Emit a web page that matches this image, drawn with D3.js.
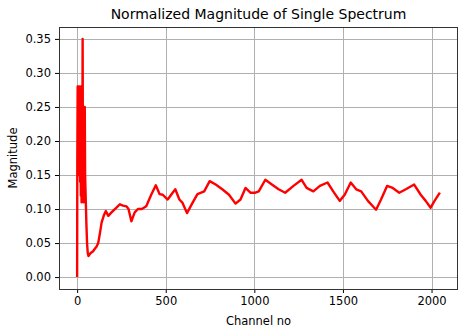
<!DOCTYPE html>
<html>
<head>
<meta charset="utf-8">
<script src="https://cdn.jsdelivr.net/npm/d3@7"></script>
<style>
html,body{margin:0;padding:0;background:#fff;}
svg{display:block;}
text{font-family:"DejaVu Sans",sans-serif;fill:#000;}
</style>
</head>
<body>
<svg id="chart" width="459" height="334"></svg>
<script>
const title = "Normalized Magnitude of Single Spectrum";
const xLabel = "Channel no";
const yLabel = "Magnitude";
const xTicks = [0, 500, 1000, 1500, 2000];
const yTicks = [0.00, 0.05, 0.10, 0.15, 0.20, 0.25, 0.30, 0.35];

const channels = [0,1,3,5,7,9,11,13,15,17,19,21,23,25,27,29,31,33,35,37,39,41,43,45,48,52,56,60,
  64,75,90,101,110,119,129,138,150,162,176,194,213,222,241,259,278,290,306,325,343,365,390,418,444,
  465,483,511,539,554,577,595,620,651,679,717,748,782,819,857,894,922,950,978,1006,1025,1062,1099,
  1137,1174,1221,1267,1295,1333,1370,1413,1445,1482,1510,1544,1575,1603,1641,1687,1715,1749,1781,
  1818,1855,1902,1939,1967,1995,2017,2047];
const magnitudes = [0.0,0.17,0.28,0.16,0.28,0.15,0.26,0.18,0.28,0.14,0.26,0.12,0.28,0.11,0.24,0.12,0.35,0.13,0.25,0.11,0.22,0.12,0.25,0.15,0.12,0.08,0.05,0.035,
  0.031,0.035,0.038,0.042,0.045,0.05,0.065,0.08,0.09,0.097,0.09,0.095,0.10,0.102,0.107,0.105,0.104,0.10,0.082,0.095,0.100,0.100,0.104,0.121,0.135,
  0.122,0.121,0.114,0.124,0.129,0.114,0.109,0.094,0.109,0.122,0.126,0.141,0.136,0.129,0.121,0.108,0.114,0.131,0.124,0.124,0.126,0.143,0.136,
  0.129,0.124,0.134,0.143,0.131,0.126,0.134,0.139,0.126,0.112,0.121,0.139,0.129,0.126,0.112,0.099,0.114,0.134,0.131,
  0.124,0.129,0.136,0.121,0.112,0.102,0.112,0.124];

const data = channels.map((c, i) => ({x: c, y: magnitudes[i]}));

const svg = d3.select("#chart");
const L = 59, R = 458, T = 27, B = 289;

const xMin = d3.min(channels), xMax = d3.max(channels);
const xPad = (xMax - xMin) * 0.05;
const yMin = d3.min(magnitudes), yMax = d3.max(magnitudes);
const yPad = (yMax - yMin) * 0.05;

const x = d3.scaleLinear().domain([xMin - xPad, xMax + xPad]).range([L, R]);
const y = d3.scaleLinear().domain([yMin - yPad, yMax + yPad]).range([B, T]);

// grid
const g = svg.append("g");
g.selectAll("line.vg").data(xTicks).join("line")
  .attr("x1", d => Math.round(x(d)) + 0.5).attr("x2", d => Math.round(x(d)) + 0.5)
  .attr("y1", T).attr("y2", B)
  .attr("stroke", "#b0b0b0").attr("stroke-width", 1);
g.selectAll("line.hg").data(yTicks).join("line")
  .attr("y1", d => Math.round(y(d)) + 0.5).attr("y2", d => Math.round(y(d)) + 0.5)
  .attr("x1", L).attr("x2", R)
  .attr("stroke", "#b0b0b0").attr("stroke-width", 1);

// line
const line = d3.line().x(d => x(d.x)).y(d => y(d.y));
svg.append("path").datum(data)
  .attr("d", line)
  .attr("fill", "none")
  .attr("stroke", "#ff0000")
  .attr("stroke-width", 2.4)
  .attr("stroke-linejoin", "round");

// axes
const xAxis = d3.axisBottom(x).tickValues(xTicks).tickSize(4).tickPadding(4).tickFormat(d3.format("d"));
const yAxis = d3.axisLeft(y).tickValues(yTicks).tickSize(4).tickPadding(4).tickFormat(d3.format(".2f"));

const gx = svg.append("g").attr("transform", `translate(0,${B})`).call(xAxis);
const gy = svg.append("g").attr("transform", `translate(${L},0)`).call(yAxis);
[gx, gy].forEach(a => {
  a.select(".domain").remove();
  a.selectAll(".tick line").attr("stroke", "#000").attr("stroke-width", 1);
  a.selectAll(".tick text").style("font-size", "11.5px").style("font-family", "DejaVu Sans");
});

// frame
svg.append("rect").attr("x", L + 0.5).attr("y", T + 0.5)
  .attr("width", R - L - 1).attr("height", B - T)
  .attr("fill", "none").attr("stroke", "#333").attr("stroke-width", 1);

// labels
svg.append("text").attr("x", (L + R) / 2).attr("y", 19)
  .attr("text-anchor", "middle").style("font-size", "14px").text(title);
svg.append("text").attr("x", (L + R) / 2).attr("y", 325)
  .attr("text-anchor", "middle").style("font-size", "11.5px").text(xLabel);
svg.append("text").attr("transform", `translate(17,${(T + B) / 2}) rotate(-90)`)
  .attr("text-anchor", "middle").style("font-size", "11.5px").text(yLabel);
</script>
</body>
</html>
